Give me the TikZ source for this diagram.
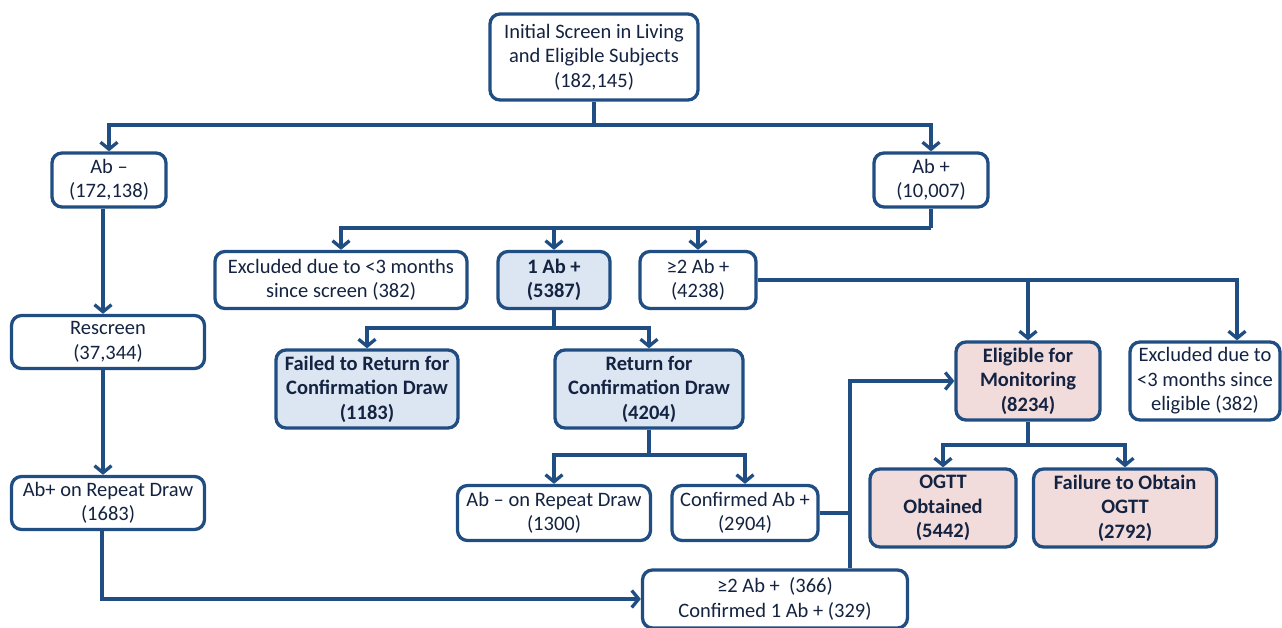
\documentclass[tikz,border=0pt]{standalone}
\usepackage{fontspec}
\setmainfont{Carlito}
\usetikzlibrary{arrows.meta}
\definecolor{ln}{RGB}{33,78,130}
\definecolor{tx}{RGB}{20,35,65}
\definecolor{bfill}{RGB}{220,230,242}
\definecolor{pfill}{RGB}{242,220,219}
\tikzset{
  box/.style={draw=ln, line width=3.3pt, rounded corners=10pt, fill=white, text=tx,
    align=center, inner sep=0pt, font=\fontsize{20.5}{24.5}\selectfont},
  bbox/.style={box, fill=bfill, font=\fontsize{20.5}{24.5}\selectfont\bfseries},
  pbox/.style={box, fill=pfill, font=\fontsize{20.5}{24.5}\selectfont\bfseries},
  conn/.style={draw=ln, line width=3.3pt},
  arr/.style={conn, -{Straight Barb[length=7pt,width=17pt]}},
}
\begin{document}
\begin{tikzpicture}[x=1pt,y=-1pt]
\useasboundingbox (0,0) rectangle (1282,628);
% nodes
\node[box, minimum width=208pt, minimum height=86pt] (init) at (594,57) {Initial Screen in Living\\and Eligible Subjects\\(182,145)};
\node[box, minimum width=114pt, minimum height=54pt] (abm) at (109,180) {Ab –\\(172,138)};
\node[box, minimum width=114pt, minimum height=54pt] (abp) at (931,180) {Ab +\\(10,007)};
\node[box, minimum width=252pt, minimum height=57pt] (exc1) at (341,280) {Excluded due to <3 months\\since screen (382)};
\node[bbox, minimum width=112pt, minimum height=57pt] (one) at (554,280) {1 Ab +\\(5387)};
\node[box, minimum width=116pt, minimum height=57pt] (two) at (698,280) {≥2 Ab +\\(4238)};
\node[box, minimum width=193pt, minimum height=53pt] (resc) at (108,342) {Rescreen\\(37,344)};
\node[bbox, minimum width=182pt, minimum height=78pt] (fail) at (367,389) {Failed to Return for\\Confirmation Draw\\(1183)};
\node[bbox, minimum width=188pt, minimum height=78pt] (ret) at (649,389) {Return for\\Confirmation Draw\\(4204)};
\node[pbox, minimum width=144pt, minimum height=78pt] (elig) at (1028,381) {Eligible for\\Monitoring\\(8234)};
\node[box, minimum width=150pt, minimum height=78pt] (exc2) at (1205,381) {Excluded due to\\<3 months since\\eligible (382)};
\node[box, minimum width=193pt, minimum height=53pt] (abpr) at (108,503) {Ab+ on Repeat Draw\\(1683)};
\node[box, minimum width=193pt, minimum height=55pt] (abmr) at (554,513) {Ab – on Repeat Draw\\(1300)};
\node[box, minimum width=146pt, minimum height=55pt] (conf) at (745,513) {Confirmed Ab +\\(2904)};
\node[pbox, minimum width=146pt, minimum height=78pt] (ogtt) at (943,508) {OGTT\\Obtained\\(5442)};
\node[pbox, minimum width=183pt, minimum height=78pt] (fobt) at (1125,508) {Failure to Obtain\\OGTT\\(2792)};
\node[box, minimum width=265pt, minimum height=58pt] (bot) at (775,599) {≥2 Ab +~~(366)\\Confirmed 1 Ab + (329)};
% junctions
\coordinate (j1) at (594,125);
\coordinate (j2) at (931,228);
\coordinate (j4) at (554,328);
\coordinate (j5) at (649,455);
\coordinate (j6) at (850,381);
\coordinate (j7) at (1028,445);
% connectors
\draw[conn] (init.south) -- (j1);
\draw[arr] (j1) -| (abm.north);
\draw[arr] (j1) -| (abp.north);
\draw[arr] ([xshift=-6pt]abm.south) -- ([xshift=-6pt]abm.south |- resc.north);
\draw[arr] ([xshift=-5pt]resc.south) -- ([xshift=-5pt]abpr.north);
\draw[arr] ([xshift=-6pt]abpr.south) |- (bot.west);
\draw[conn] (abp.south) -- (j2);
\draw[arr] (j2) -| (exc1.north);
\draw[arr] (j2) -| (one.north);
\draw[arr] (j2) -| (two.north);
\draw[arr] (two.east) -| ([xshift=32pt]exc2.north);
\draw[arr] (two.east -| elig.north) -- (elig.north);
\draw[conn] (one.south) -- (j4);
\draw[arr] (j4) -| (fail.north);
\draw[arr] (j4) -| (ret.north);
\draw[conn] (ret.south) -- (j5);
\draw[arr] (j5) -| (abmr.north);
\draw[arr] (j5) -| (conf.north);
\draw[conn] (conf.east) -- (conf.east -| j6);
\draw[arr] (bot.north -| j6) -- (j6) -- (elig.west);
\draw[conn] (elig.south) -- (j7);
\draw[arr] (j7) -| (ogtt.north);
\draw[arr] (j7) -| (fobt.north);
\end{tikzpicture}
\end{document}
